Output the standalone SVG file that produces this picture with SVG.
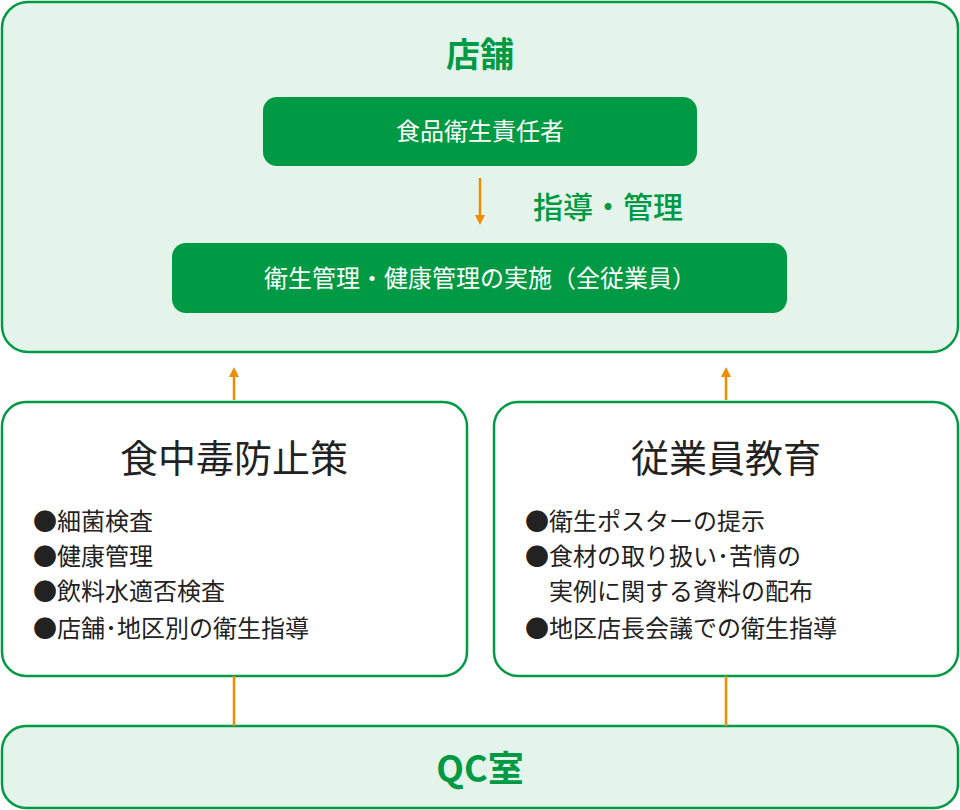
<svg xmlns="http://www.w3.org/2000/svg" width="960" height="810" viewBox="0 0 960 810">
<style>
text{font-family:"Noto Sans CJK JP","Noto Sans",sans-serif}
.pale{fill:#e5f4ea;stroke:#009a44;stroke-width:2.5}
.white{fill:#fff;stroke:#009a44;stroke-width:2.5}
.solid{fill:#009a44}
.wt{fill:#fff;font-size:24px;text-anchor:middle}
.g{fill:#009a44;font-weight:bold;text-anchor:middle}
.t{fill:#222;font-size:38px;text-anchor:middle}
.b{fill:#222;font-size:24px}
.c{stroke:#f08c00;stroke-width:2.5;fill:none}
</style>
<defs><marker id="ah" markerWidth="10" markerHeight="10" refX="5" refY="5" orient="auto" markerUnits="userSpaceOnUse"><path d="M0,0L10,5L0,10Z" fill="#f08c00"/></marker></defs>
<g id="store">
<rect class="pale" x="2" y="2" width="956" height="350" rx="26"/>
<text class="g" x="480" y="67" font-size="34">店舗</text>
</g>
<g id="manager"><rect class="solid" x="263" y="97" width="434" height="69" rx="14"/><text class="wt" x="480" y="140">食品衛生責任者</text></g>
<g id="impl"><rect class="solid" x="172" y="243" width="615" height="70" rx="14"/><text class="wt" x="480" y="287">衛生管理・健康管理の実施（全従業員）</text></g>
<text class="g" x="608" y="218" font-size="30" font-weight="normal" style="font-weight:500">指導・管理</text>
<g id="left"><rect class="white" x="2" y="402" width="465" height="274" rx="24"/>
<text class="t" x="234" y="472">食中毒防止策</text>
<text class="b" x="33" y="530">●細菌検査</text>
<text class="b" x="33" y="565">●健康管理</text>
<text class="b" x="33" y="600">●飲料水適否検査</text>
<text class="b" x="33" y="637">●店舗･地区別の衛生指導</text></g>
<g id="right"><rect class="white" x="494" y="402" width="464" height="274" rx="24"/>
<text class="t" x="726" y="472">従業員教育</text>
<text class="b" x="525" y="530">●衛生ポスターの提示</text>
<text class="b" x="525" y="565">●食材の取り扱い･苦情の</text>
<text class="b" x="549" y="600">実例に関する資料の配布</text>
<text class="b" x="525" y="637">●地区店長会議での衛生指導</text></g>
<g id="qc"><rect class="pale" x="2" y="726" width="956" height="82" rx="24"/><text class="g" x="480" y="782" font-size="36">QC室</text></g>
<g id="connectors">
<line class="c" x1="480" y1="178" x2="480" y2="220" marker-end="url(#ah)"/>
<line class="c" x1="234" y1="400" x2="234" y2="372" marker-end="url(#ah)"/>
<line class="c" x1="726" y1="400" x2="726" y2="372" marker-end="url(#ah)"/>
<line class="c" x1="234" y1="676" x2="234" y2="726"/>
<line class="c" x1="726" y1="676" x2="726" y2="726"/>
</g>
</svg>
